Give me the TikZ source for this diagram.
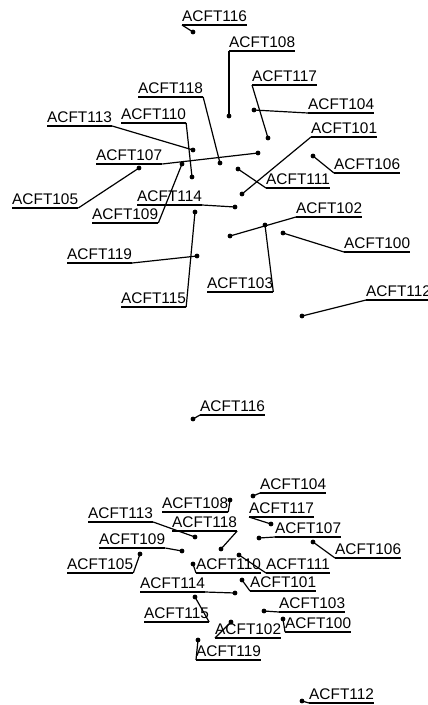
\documentclass[tikz,border=0pt]{standalone}
\usepackage{fontspec}
\setmainfont{Liberation Sans}
\tikzset{
  lbl/.style={anchor=south west, inner xsep=0pt, inner ysep=3.5pt,
    font=\fontsize{15.4}{18}\selectfont, text=black},
  lead/.style={line width=1.2pt},
  blip/.style={fill=black},
}
\begin{document}
\begin{tikzpicture}[x=1pt,y=-1pt]
  \useasboundingbox (0,0) rectangle (428,705);
  % Upper display: flight, aircraft position, underline start, leader side
  \foreach \n/\px/\py/\ux/\uy/\side in {
      116/193/32/182/25/west, 108/229/116/229/51/west,
      117/268/138/252/85/west, 104/254/110/308/113/west,
      101/242/194/311/137/west, 106/313/156/334/173/west,
      111/238/169/266/188/west, 102/230/236/296/217/west,
      103/265/225/207/292/east, 100/283/233/344/252/west,
      112/302/316/366/300/west, 119/197/256/67/263/east,
      115/195/212/121/307/east, 114/235/207/137/205/east,
      109/182/164/92/223/east, 105/139/168/12/208/east,
      107/258/153/96/164/east, 113/193/150/47/126/east,
      110/192/177/121/123/east, 118/220/163/138/97/east} {
    \coordinate (u\n) at (\px,\py);
    \node[lbl] (ut\n) at (\ux,\uy) {ACFT\n};
    \draw[lead] (ut\n.south west) -- (ut\n.south east);
    \draw[lead] (u\n) -- (ut\n.south \side);
    \fill[blip] (u\n) circle (2.4pt);
  }
  % Lower display
  \foreach \n/\px/\py/\ux/\uy/\side in {
      116/193/419/200/415/west, 104/253/496/260/493/west,
      108/230/500/162/512/east, 117/271/524/249/517/west,
      113/195/537/88/522/east, 118/221/549/172/531/east,
      107/259/538/275/537/west, 106/313/542/335/558/west,
      109/182/551/99/548/east, 105/140/554/67/573/east,
      110/193/564/196/573/west, 111/239/555/266/573/west,
      114/235/593/140/592/east, 101/242/580/250/591/west,
      115/195/597/144/622/east, 103/264/611/279/612/west,
      100/283/619/285/632/west, 102/231/622/215/638/west,
      119/198/640/196/660/west, 112/302/701/309/703/west} {
    \coordinate (l\n) at (\px,\py);
    \node[lbl] (lt\n) at (\ux,\uy) {ACFT\n};
    \draw[lead] (lt\n.south west) -- (lt\n.south east);
    \draw[lead] (l\n) -- (lt\n.south \side);
    \fill[blip] (l\n) circle (2.4pt);
  }
\end{tikzpicture}
\end{document}
